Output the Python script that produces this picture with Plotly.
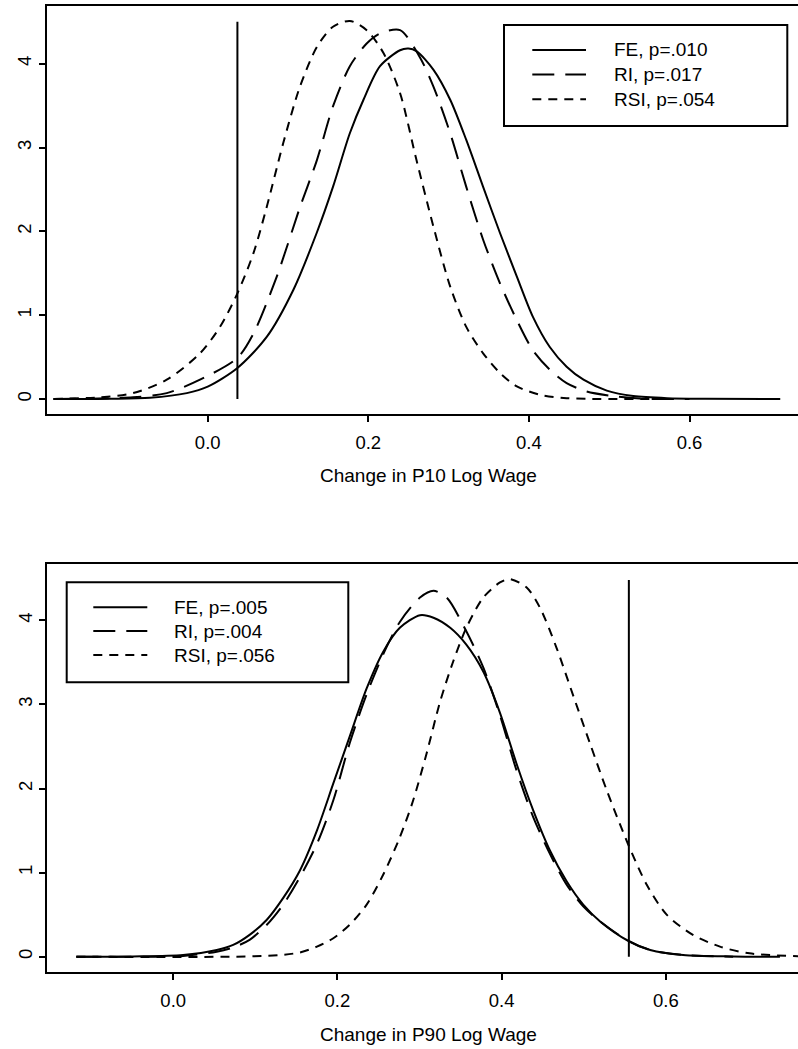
import plotly.graph_objects as go

# ---------------- data ----------------
# Top panel: Change in P10 Log Wage
p10_fe_x = [-0.192, -0.12, -0.072, -0.026, 0.0, 0.037, 0.0735, 0.1066, 0.1357, 0.156, 0.177, 0.194,
            0.2146, 0.2395, 0.25, 0.260, 0.281, 0.302, 0.322, 0.343, 0.364, 0.385, 0.405, 0.426,
            0.447, 0.468, 0.497, 0.530, 0.572, 0.62, 0.713]
p10_fe_y = [0, 0.003, 0.015, 0.07, 0.147, 0.37, 0.74, 1.30, 1.98, 2.53, 3.17, 3.57,
            3.97, 4.16, 4.18, 4.15, 3.93, 3.57, 3.09, 2.53, 1.98, 1.46, 0.98, 0.62,
            0.385, 0.23, 0.10, 0.035, 0.01, 0.003, 0]

p10_ri_x = [-0.192, -0.093, -0.051, -0.0096, 0.037, 0.057, 0.086, 0.115, 0.136, 0.156, 0.177, 0.198,
            0.2146, 0.2395, 0.264, 0.281, 0.302, 0.322, 0.343, 0.364, 0.385, 0.405, 0.426, 0.447,
            0.472, 0.509, 0.538, 0.6]
p10_ri_y = [0, 0.02, 0.07, 0.23, 0.49, 0.78, 1.46, 2.29, 2.85, 3.49, 3.97, 4.24,
            4.36, 4.40, 4.08, 3.73, 3.17, 2.53, 1.90, 1.38, 0.94, 0.58, 0.35, 0.19,
            0.09, 0.03, 0.005, 0]

p10_rsi_x = [-0.192, -0.134, -0.093, -0.051, -0.0096, 0.0153, 0.037, 0.057, 0.0735, 0.094, 0.115, 0.136,
             0.156, 0.177, 0.198, 0.2187, 0.2395, 0.260, 0.281, 0.302, 0.322, 0.343, 0.364, 0.385,
             0.414, 0.447, 0.55]
p10_rsi_y = [0, 0.02, 0.07, 0.23, 0.545, 0.86, 1.26, 1.74, 2.29, 3.05, 3.73, 4.20,
             4.44, 4.51, 4.40, 4.13, 3.65, 2.85, 2.06, 1.34, 0.86, 0.545, 0.31, 0.15,
             0.05, 0.01, 0]

p10_vline_x = 0.037
p10_vline_top = 4.50

# Bottom panel: Change in P90 Log Wage
p90_fe_x = [-0.118, -0.049, 0.012, 0.053, 0.073, 0.093, 0.114, 0.134, 0.154, 0.175, 0.195, 0.215,
            0.2356, 0.256, 0.276, 0.3006, 0.317, 0.3374, 0.357, 0.3776, 0.398, 0.418, 0.4385, 0.459,
            0.479, 0.4994, 0.52, 0.554, 0.581, 0.621, 0.682, 0.739]
p90_fe_y = [0, 0.003, 0.02, 0.08, 0.14, 0.26, 0.44, 0.70, 1.02, 1.50, 2.06, 2.62,
            3.19, 3.63, 3.91, 4.06, 4.03, 3.91, 3.71, 3.39, 2.90, 2.30, 1.74, 1.26,
            0.90, 0.62, 0.42, 0.19, 0.08, 0.02, 0.003, 0]

p90_ri_x = [-0.118, 0.012, 0.053, 0.073, 0.093, 0.114, 0.134, 0.154, 0.175, 0.195, 0.215, 0.2356,
            0.256, 0.276, 0.3006, 0.317, 0.333, 0.357, 0.378, 0.398, 0.418, 0.4385, 0.459, 0.479,
            0.4994, 0.52, 0.554, 0.581, 0.621, 0.682]
p90_ri_y = [0, 0.01, 0.06, 0.11, 0.20, 0.38, 0.62, 0.94, 1.34, 1.86, 2.54, 3.12,
            3.60, 3.98, 4.27, 4.35, 4.27, 3.87, 3.43, 2.87, 2.22, 1.66, 1.22, 0.86,
            0.60, 0.42, 0.19, 0.08, 0.02, 0]

p90_rsi_x = [-0.118, 0.114, 0.154, 0.175, 0.195, 0.215, 0.2356, 0.256, 0.276, 0.2923, 0.3087, 0.325,
             0.341, 0.357, 0.3776, 0.398, 0.410, 0.4305, 0.4467, 0.467, 0.487, 0.5075, 0.528, 0.554,
             0.5766, 0.601, 0.633, 0.666, 0.702, 0.78]
p90_rsi_y = [0, 0.01, 0.05, 0.12, 0.22, 0.38, 0.62, 0.98, 1.42, 1.86, 2.42, 3.03,
             3.51, 3.91, 4.27, 4.45, 4.49, 4.39, 4.15, 3.67, 3.11, 2.54, 1.98, 1.34,
             0.86, 0.50, 0.26, 0.12, 0.04, 0]

p90_vline_x = 0.555
p90_vline_top = 4.48

x_ticks = [0.0, 0.2, 0.4, 0.6]
y_ticks = [0, 1, 2, 3, 4]
top_labels = ["FE, p=.010", "RI, p=.017", "RSI, p=.054"]
bottom_labels = ["FE, p=.005", "RI, p=.004", "RSI, p=.056"]
x_title_top = "Change in P10 Log Wage"
x_title_bottom = "Change in P90 Log Wage"

# ---------------- styling ----------------
W, H = 798, 1049
FONT = "Liberation Sans, Arial, Helvetica, sans-serif"
DASHES = ["solid", "22px,11px", "9px,7px"]
LW = 2


def px(x):
    return x / W


def py(y):
    return 1 - y / H


fig = go.Figure()

panels = [
    ("x", "y", [(p10_fe_x, p10_fe_y), (p10_ri_x, p10_ri_y), (p10_rsi_x, p10_rsi_y)],
     p10_vline_x, p10_vline_top, top_labels),
    ("x2", "y2", [(p90_fe_x, p90_fe_y), (p90_ri_x, p90_ri_y), (p90_rsi_x, p90_rsi_y)],
     p90_vline_x, p90_vline_top, bottom_labels),
]

for xa, ya, series, vx, vtop, labels in panels:
    for (sx, sy), dash, name in zip(series, DASHES, labels):
        fig.add_trace(go.Scatter(x=sx, y=sy, mode="lines", name=name, xaxis=xa, yaxis=ya,
                                 line=dict(color="black", width=LW, dash=dash, shape="spline", smoothing=0.8),
                                 showlegend=False, hoverinfo="skip"))
    fig.add_trace(go.Scatter(x=[vx, vx], y=[0, vtop], mode="lines", xaxis=xa, yaxis=ya,
                             line=dict(color="black", width=LW), showlegend=False, hoverinfo="skip"))

axis_common = dict(showgrid=False, zeroline=False, showline=True, linecolor="black", linewidth=2.2,
                   ticks="outside", ticklen=6, tickwidth=2, tickcolor="black",
                   tickfont=dict(family=FONT, size=18.5, color="black"))

fig.update_layout(
    width=W, height=H, autosize=False,
    margin=dict(l=0, r=0, t=0, b=0),
    paper_bgcolor="white", plot_bgcolor="white",
    showlegend=False,
    xaxis=dict(domain=[px(46.7), 1.0], range=[-0.2005, (798 - 207.7) / 803], anchor="y",
               tickvals=x_ticks, tickformat=".1f", mirror=True, ticklabelstandoff=5, **axis_common),
    yaxis=dict(domain=[py(413.5), py(6)], range=[-0.173, 4.688], anchor="x",
               tickvals=y_ticks, tickangle=-90, ticklabelstandoff=0, **axis_common),
    xaxis2=dict(domain=[px(47.3), 1.0], range=[-0.1534, (798 - 173.2) / 821], anchor="y2",
                tickvals=x_ticks, tickformat=".1f", mirror=True, ticklabelstandoff=5, **axis_common),
    yaxis2=dict(domain=[py(971.7), py(564)], range=[-0.178, 4.669], anchor="x2",
                tickvals=y_ticks, tickangle=-90, ticklabelstandoff=0, **axis_common),
)

annotations = []
shapes = []

# axis titles
for title, ycen in [(x_title_top, 475.3), (x_title_bottom, 1034)]:
    annotations.append(dict(x=px(428), y=py(ycen), xref="paper", yref="paper", text=title,
                            showarrow=False, xanchor="center", yanchor="middle",
                            font=dict(family=FONT, size=19, color="black")))

# manual legends (R style)
legends = [
    dict(box=(504, 25, 787.3, 126), line=(532.3, 586), text_x=611.7, rows=[50, 74.5, 99.3], labels=top_labels),
    dict(box=(66.7, 582.3, 348.3, 682.3), line=(93.3, 147.3), text_x=171.7, rows=[607.3, 631, 655], labels=bottom_labels),
]
for lg in legends:
    x0, y0, x1, y1 = lg["box"]
    shapes.append(dict(type="rect", xref="paper", yref="paper", x0=px(x0), x1=px(x1), y0=py(y1), y1=py(y0),
                       line=dict(color="black", width=2), fillcolor="white", layer="above"))
    for ry, dash, lab in zip(lg["rows"], DASHES, lg["labels"]):
        shapes.append(dict(type="line", xref="paper", yref="paper", x0=px(lg["line"][0]), x1=px(lg["line"][1]),
                           y0=py(ry), y1=py(ry), line=dict(color="black", width=LW, dash=dash), layer="above"))
        annotations.append(dict(x=px(lg["text_x"]), y=py(ry), xref="paper", yref="paper", text=lab,
                                showarrow=False, xanchor="left", yanchor="middle",
                                font=dict(family=FONT, size=19, color="black")))

fig.update_layout(annotations=annotations, shapes=shapes)

fig.write_html("out.html", config={"displayModeBar": False, "staticPlot": True},
               post_script="document.body.style.margin='0';document.body.style.overflow='hidden';")
